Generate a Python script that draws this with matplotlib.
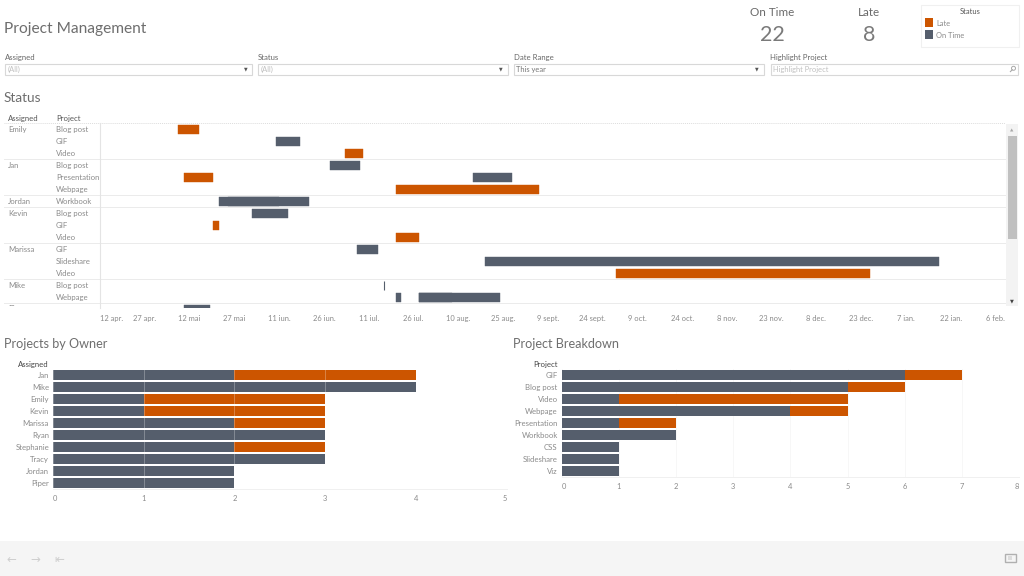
import matplotlib
matplotlib.use("Agg")
import matplotlib.pyplot as plt
import matplotlib.dates as mdates
from matplotlib.patches import Rectangle, Circle
from datetime import datetime, timedelta

LATE = "#cc5500"
ONTIME = "#555e6c"
TXT = "#8a8a8a"
DARK = "#555555"
plt.rcParams["font.family"] = ["Lato", "DejaVu Sans"]

# ---------- data ----------
gantt_rows = [("Emily", "Blog post"), ("", "GIF"), ("", "Video"),
              ("Jan", "Blog post"), ("", "Presentation"), ("", "Webpage"),
              ("Jordan", "Workbook"),
              ("Kevin", "Blog post"), ("", "GIF"), ("", "Video"),
              ("Marissa", "GIF"), ("", "Slideshare"), ("", "Video"),
              ("Mike", "Blog post"), ("", "Webpage"),
              ("Piper", "GIF")]
group_breaks = [3, 6, 7, 10, 13, 15]

gantt_row = [0, 1, 2, 3, 4, 4, 5, 6, 6, 7, 8, 9, 10, 11, 12, 13, 14, 14, 14, 15]
gantt_start = ["2019-05-08", "2019-06-10", "2019-07-03", "2019-06-28", "2019-05-10",
               "2019-08-15", "2019-07-20", "2019-05-22", "2019-05-25", "2019-06-02",
               "2019-05-20", "2019-07-20", "2019-07-07", "2019-08-19", "2019-10-02",
               "2019-07-16", "2019-07-20", "2019-07-28", "2019-07-28", "2019-05-10"]
gantt_end = ["2019-05-15", "2019-06-18", "2019-07-09", "2019-07-08", "2019-05-20",
             "2019-08-28", "2019-09-06", "2019-06-11", "2019-06-21", "2019-06-14",
             "2019-05-22", "2019-07-28", "2019-07-14", "2020-01-18", "2019-12-26",
             "2019-07-16", "2019-07-22", "2019-08-08", "2019-08-24", "2019-05-19"]
gantt_late = [1, 0, 1, 0, 1, 0, 1, 0, 0, 0, 1, 1, 0, 0, 1, 0, 0, 0, 0, 0]

ro_tick_labels = ["12 apr.", "27 apr.", "12 mai", "27 mai", "11 iun.", "26 iun.", "11 iul.",
                  "26 iul.", "10 aug.", "25 aug.", "9 sept.", "24 sept.", "9 oct.", "24 oct.",
                  "8 nov.", "23 nov.", "8 dec.", "23 dec.", "7 ian.", "22 ian.", "6 feb."]

owners = ["Jan", "Mike", "Emily", "Kevin", "Marissa", "Ryan", "Stephanie", "Tracy", "Jordan", "Piper"]
owner_ontime = [2, 4, 1, 1, 2, 3, 2, 3, 2, 2]
owner_late = [2, 0, 2, 2, 1, 0, 1, 0, 0, 0]

projects = ["GIF", "Blog post", "Video", "Webpage", "Presentation", "Workbook", "CSS", "Slideshare", "Viz"]
project_ontime = [6, 5, 1, 4, 1, 2, 1, 1, 1]
project_late = [1, 1, 4, 1, 1, 0, 0, 0, 0]

kpi_ontime = "22"
kpi_late = "8"

# ---------- canvas ----------
W, H = 1024, 576
fig = plt.figure(figsize=(W / 100, H / 100), dpi=100, facecolor="white")


def axes_px(l, t, r, b, **kw):
    return fig.add_axes([l / W, 1 - b / H, (r - l) / W, (b - t) / H], **kw)


bg = axes_px(0, 0, W, H)
bg.set_xlim(0, W)
bg.set_ylim(H, 0)
bg.axis("off")


def rect(x0, y0, x1, y1, fc="none", ec="none", lw=0.8, z=1):
    bg.add_patch(Rectangle((x0, y0), x1 - x0, y1 - y0, fc=fc, ec=ec, lw=lw, zorder=z))


def txt(x, y, s, size=6.2, color=TXT, ha="left", **kw):
    bg.text(x, y, s, fontsize=size, color=color, ha=ha, va="center_baseline", **kw)


# titles
txt(4, 27.5, "Project Management", size=11.2, color="#6e6e6e")
txt(4, 97, "Status", size=9.8, color="#6e6e6e")
txt(4, 343, "Projects by Owner", size=9.1, color="#6e6e6e")
txt(513, 343, "Project Breakdown", size=9.1, color="#6e6e6e")

# KPIs
txt(772, 11, "On Time", size=8.4, color="#6a6a6a", ha="center")
txt(772, 33, kpi_ontime, size=15.5, color="#7a7a7a", ha="center")
txt(869, 11, "Late", size=8.4, color="#6a6a6a", ha="center")
txt(869, 33, kpi_late, size=15.5, color="#7a7a7a", ha="center")

# legend
rect(921, 4.5, 1018.5, 47, ec="#f0f0f0")
txt(970, 10.5, "Status", size=5.4, color=DARK, ha="center")
rect(924.5, 18.3, 932.7, 26.7, fc=LATE)
rect(924.5, 30, 932.7, 39, fc=ONTIME)
txt(936, 23, "Late", size=5.4)
txt(936, 35, "On Time", size=5.4)

# filters
filters = [("Assigned", "(All)", 5, 252.3), ("Status", "(All)", 258.3, 507.7),
           ("Date Range", "This year", 514, 764), ("Highlight Project", "Highlight Project", 770.7, 1017.5)]
for i, (lab, val, x0, x1) in enumerate(filters):
    txt(x0 - 0.5, 57, lab, size=5.6, color="#666666")
    rect(x0, 63.5, x1, 74.5, ec="#d8d8d8")
    col = "#777777" if val == "This year" else "#c0c0c0"
    txt(x0 + 2.5, 69.3, val, size=5.4, color=col)
    if i < 3:
        txt(x1 - 7, 68.8, "▼", size=3.4, color="#555555", ha="center", family="DejaVu Sans")
# search icon
bg.add_patch(Circle((1013.5, 68.3), 2.0, fc="none", ec="#a8a8a8", lw=0.7, zorder=2))
bg.plot([1012.2, 1010.4], [69.8, 71.6], color="#a8a8a8", lw=0.8, zorder=2)

# gantt headers and row labels
row_top, row_h = 123.3, 12.0
txt(8, 118, "Assigned", size=5.6, color="#555555")
txt(56, 118, "Project", size=5.6, color="#555555")
ax_bottom = 308
gx0, gx1 = 100, 1005
for i, (a, p) in enumerate(gantt_rows[:-1]):
    yc = row_top + row_h * (i + 0.5)
    if a:
        txt(8, yc - 0.6, a, size=5.6)
    txt(56, yc, p, size=5.6)
for yy in [row_top + row_h * b for b in group_breaks]:
    bg.plot([4, gx1], [yy, yy], color="#ebebeb", lw=0.7, zorder=1)
bg.plot([4, gx1], [row_top, row_top], color="#dddddd", lw=0.7, ls=(0, (1, 1)), zorder=1)
txt(8, 308.5, gantt_rows[-1][0], size=5.6)
txt(56, 308.5, gantt_rows[-1][1], size=5.6)
rect(0, 306, 100, 314, fc="white", z=5)

# gantt chart
ax = axes_px(gx0, row_top, gx1, ax_bottom)
ax.patch.set_alpha(0)
d0 = datetime(2019, 4, 12)
ax.set_xlim(mdates.date2num(d0), mdates.date2num(d0) + (gx1 - gx0) / 2.985)
ax.set_ylim((ax_bottom - row_top) / row_h, 0)
for r, s, e, late in zip(gantt_row, gantt_start, gantt_end, gantt_late):
    a = mdates.date2num(datetime.fromisoformat(s))
    b = mdates.date2num(datetime.fromisoformat(e))
    c = LATE if late else ONTIME
    lw = 0.8 if b == a else 0.3
    ax.barh(r + 0.5, b - a, left=a, height=0.76, color=c, edgecolor=c, linewidth=lw, zorder=3)
ticks = [mdates.date2num(d0 + timedelta(days=15 * i)) for i in range(len(ro_tick_labels))]
ax.set_xticks(ticks)
ax.set_xticklabels(ro_tick_labels, fontsize=5.4, color=TXT)
ax.get_xticklabels()[0].set_ha("left")
ax.tick_params(axis="x", length=0, pad=5)
ax.set_yticks([])
for s in ["top", "right", "bottom"]:
    ax.spines[s].set_visible(False)
ax.spines["left"].set_color("#e4e4e4")
ax.spines["left"].set_linewidth(0.8)

# scrollbar
rect(1006, 123.5, 1018, 306, fc="#f3f3f3", z=2)
rect(1007.7, 136, 1017.3, 238.5, fc="#c0c0c0", z=3)
txt(1012, 130, "▲", size=3.2, color="#a8a8a8", ha="center", family="DejaVu Sans")
txt(1012, 300.5, "▼", size=3.6, color="#444444", ha="center", family="DejaVu Sans")


def stacked(l, t, r, b, names, ontime, late, xmax, header, label_x, inner):
    a = axes_px(l, t, r, b)
    a.patch.set_alpha(0)
    ys = list(range(len(names)))
    a.barh(ys, ontime, height=0.76, color=ONTIME, zorder=2)
    a.barh(ys, late, left=ontime, height=0.76, color=LATE, zorder=2)
    a.set_xlim(0, xmax)
    a.set_ylim(len(names) - 0.5 + (b - t - 12 * len(names)) / 12, -0.5)
    a.set_xticks(range(xmax + 1))
    a.set_xticklabels([str(v) for v in range(xmax + 1)], fontsize=5.4, color=TXT)
    a.get_xticklabels()[0].set_ha("left")
    a.get_xticklabels()[-1].set_ha("right")
    a.tick_params(axis="x", length=0, pad=4)
    a.set_yticks([])
    for s in ["top", "right", "left"]:
        a.spines[s].set_visible(False)
    a.spines["bottom"].set_color("#f0f0f0")
    a.spines["bottom"].set_linewidth(0.7)
    a.grid(axis="x", color="#ffffff" if inner else "#f7f7f7", alpha=0.28 if inner else 1,
           lw=0.7, zorder=3 if inner else 1)
    a.set_axisbelow(not inner)
    for i, n in enumerate(names):
        txt(label_x, t + 6 + 12 * i, n, size=5.6, ha="right")
    txt(label_x, t - 5, header, size=5.6, color="#444444", ha="right")


stacked(52.7, 369, 507, 489.3, owners, owner_ontime, owner_late, 5, "Assigned", 49, True)
stacked(561.7, 369, 1019, 477, projects, project_ontime, project_late, 8, "Project", 557.7, False)

# toolbar
rect(0, 541, W, H, fc="#f5f5f5")
for x, s in [(11, "←"), (35, "→"), (59, "⇤")]:
    txt(x, 557.5, s, size=8.5, color="#cfcfcf", ha="center", family="DejaVu Sans")
rect(1004.5, 554, 1015.5, 562, ec="#b0b0b0", lw=1, z=2)
rect(1008, 556, 1012, 560, fc="#dcdcdc", z=2)

fig.savefig("out.png", dpi=100, facecolor="white")
